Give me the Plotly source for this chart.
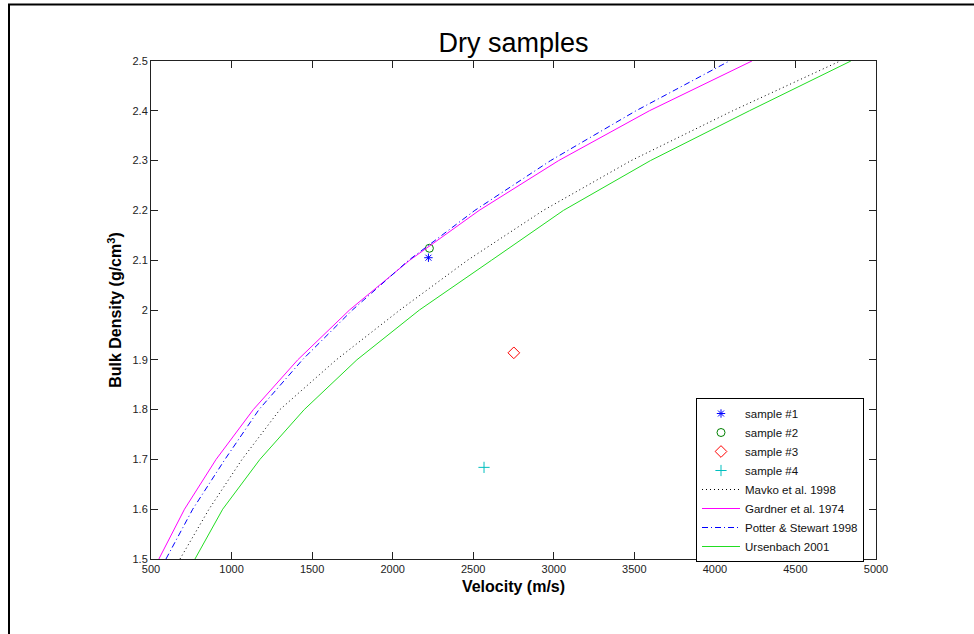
import plotly.graph_objects as go

# ---- data ----
density_grid = [1.5, 1.6, 1.7, 1.8, 1.9, 2.0, 2.1, 2.2, 2.3, 2.4, 2.5]
mavko_v = [680, 860, 1065, 1300, 1650, 2045, 2465, 2935, 3480, 4110, 4778]
gardner_v = [549, 708, 904, 1135, 1411, 1732, 2106, 2537, 3030, 3593, 4230]
potter_v = [593, 759, 959, 1170, 1440, 1750, 2100, 2510, 2980, 3510, 4090]
ursenbach_v = [773, 945, 1176, 1451, 1778, 2166, 2614, 3060, 3600, 4214, 4844]

sample_names = ["sample #1", "sample #2", "sample #3", "sample #4"]
sample_velocity = [2222, 2228, 2752, 2567]
sample_density = [2.105, 2.124, 1.914, 1.684]

x_ticks = [500, 1000, 1500, 2000, 2500, 3000, 3500, 4000, 4500, 5000]
x_ticktext = ["500", "1000", "1500", "2000", "2500", "3000", "3500", "4000", "4500", "5000"]
y_ticks = [1.5, 1.6, 1.7, 1.8, 1.9, 2.0, 2.1, 2.2, 2.3, 2.4, 2.5]
y_ticktext = ["1.5", "1.6", "1.7", "1.8", "1.9", "2", "2.1", "2.2", "2.3", "2.4", "2.5"]

FONT = "Liberation Sans, Arial, sans-serif"

sample_styles = [
    dict(symbol="asterisk-open", color="#0000ff", size=7),
    dict(symbol="circle-open", color="#008000", size=8),
    dict(symbol="diamond-open", color="#ff0000", size=9),
    dict(symbol="cross-thin-open", color="#00bfbf", size=8),
]

fig = go.Figure()
for name, v, d, st in zip(sample_names, sample_velocity, sample_density, sample_styles):
    fig.add_trace(go.Scatter(
        x=[v], y=[d], mode="markers", name=name,
        marker=dict(symbol=st["symbol"], color=st["color"], size=st["size"],
                    line=dict(color=st["color"], width=1)),
    ))

curves = [
    ("Mavko et al. 1998", mavko_v, "#000000", "1px,3px"),
    ("Gardner et al. 1974", gardner_v, "#ff00ff", "solid"),
    ("Potter & Stewart 1998", potter_v, "#0000ff", "6px,3px,1px,3px"),
    ("Ursenbach 2001", ursenbach_v, "#22dd22", "solid"),
]
for name, v, col, dash in curves:
    fig.add_trace(go.Scatter(
        x=v, y=density_grid, mode="lines", name=name,
        line=dict(color=col, width=1, dash=dash),
    ))

W, H = 974, 634
L, R, T, B = 151, 98, 61, 75
pw, ph = W - L - R, H - T - B

def px_x(p):
    return (p - L) / pw

def px_y(p):
    return (H - B - p) / ph

axis_common = dict(
    showline=True, linecolor="#222222", linewidth=1, mirror="ticks",
    ticks="inside", ticklen=7, tickcolor="#222222", tickwidth=1,
    showgrid=False, zeroline=False,
    tickfont=dict(family=FONT, size=11, color="#222222"),
)

fig.update_layout(
    width=W, height=H,
    margin=dict(l=L, r=R, t=T, b=B, autoexpand=False),
    paper_bgcolor="white", plot_bgcolor="white",
    title=dict(text="Dry samples", x=513.5 / W, xanchor="center",
               y=1 - 43 / H, yanchor="middle",
               font=dict(family=FONT, size=27, color="#000000")),
    xaxis=dict(range=[500, 5000], tickvals=x_ticks, ticktext=x_ticktext,
               title=dict(text="<b>Velocity (m/s)</b>", standoff=6,
                          font=dict(family=FONT, size=16, color="#000000")),
               **axis_common),
    yaxis=dict(range=[1.5, 2.5], tickvals=y_ticks, ticktext=y_ticktext,
               title=dict(text="<b>Bulk Density (g/cm<sup>3</sup>)</b>", standoff=6,
                          font=dict(family=FONT, size=16, color="#000000")),
               **axis_common),
    legend=dict(x=px_x(696), y=px_y(398), xanchor="left", yanchor="top",
                bgcolor="white", bordercolor="#000000", borderwidth=1,
                font=dict(family=FONT, size=11.5, color="#111111"),
                tracegroupgap=0, itemwidth=38),
    showlegend=True,
    shapes=[
        dict(type="line", xref="paper", yref="paper",
             x0=px_x(8), x1=px_x(980), y0=px_y(4.5), y1=px_y(4.5),
             line=dict(color="#000000", width=2)),
        dict(type="line", xref="paper", yref="paper",
             x0=px_x(9), x1=px_x(9), y0=px_y(4), y1=px_y(640),
             line=dict(color="#000000", width=2)),
    ],
)

fig.write_html(
    "out.html",
    config={"displayModeBar": False},
    post_script="document.body.style.margin='0';document.body.style.overflow='hidden';",
)
